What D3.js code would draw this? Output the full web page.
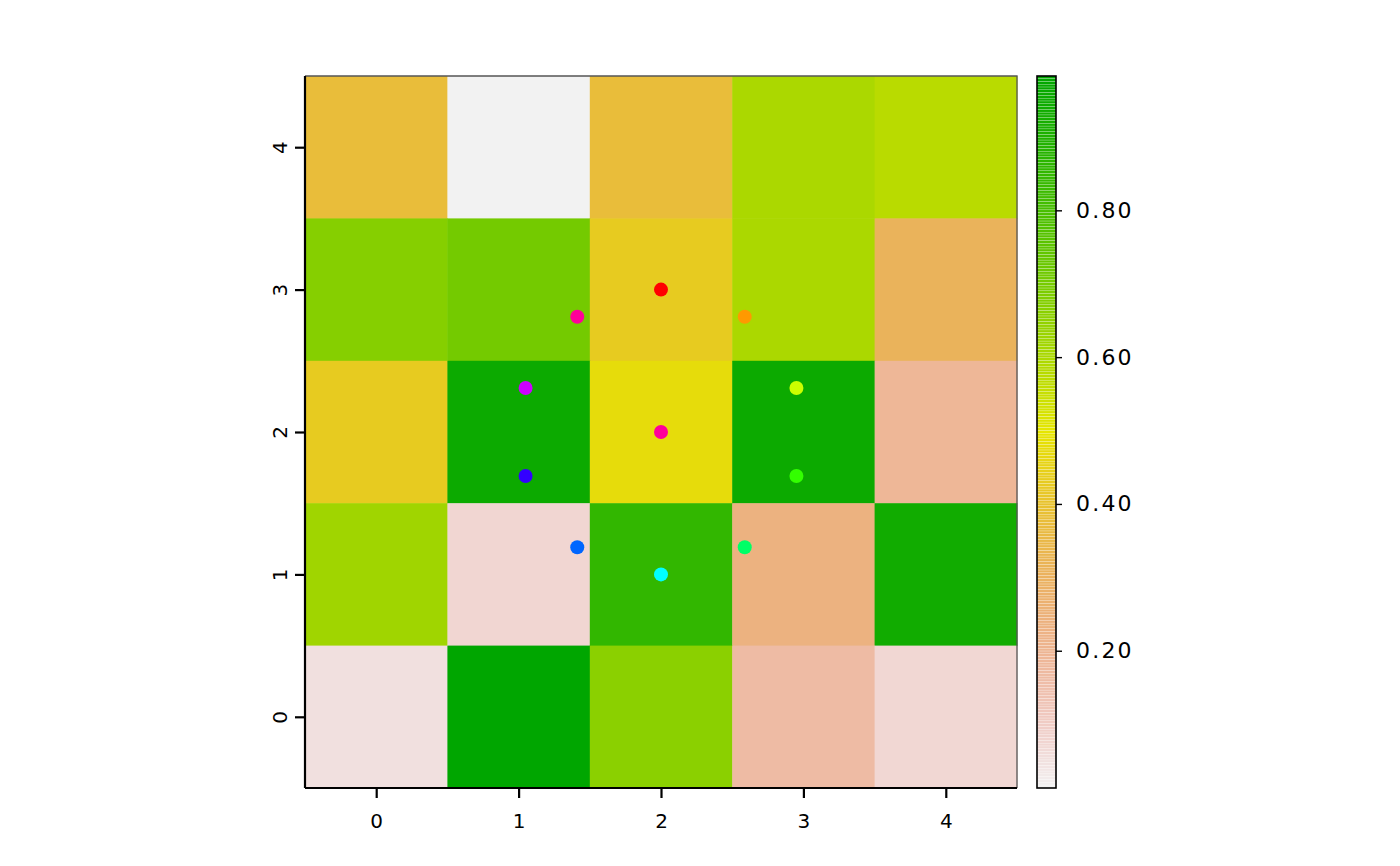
<!DOCTYPE html>
<html><head><meta charset="utf-8">
<script src="https://cdn.jsdelivr.net/npm/d3@7"></script>
<style>body{margin:0;background:#fff}svg{display:block}text{font-family:"DejaVu Sans",sans-serif}</style>
</head><body>
<svg id="c" width="1400" height="866"></svg>
<script>
// grid rows from top (y=4) to bottom (y=0), columns x=0..4
const xCats = [0, 1, 2, 3, 4];
const yCats = [4, 3, 2, 1, 0];
const row4 = [0.377, 0.013, 0.377, 0.600, 0.575];
const row3 = [0.670, 0.705, 0.430, 0.600, 0.310];
const row2 = [0.430, 0.948, 0.475, 0.948, 0.190];
const row1 = [0.620, 0.075, 0.850, 0.235, 0.936];
const row0 = [0.050, 0.983, 0.660, 0.165, 0.072];
const gridRows = [row4, row3, row2, row1, row0];
const ptX = [2, 2.588, 2.951, 2.951, 2.588, 2, 1.412, 1.049, 1.049, 1.412, 2];
const ptY = [3, 2.809, 2.309, 1.691, 1.191, 1, 1.191, 1.691, 2.309, 2.809, 2];
const ptCol = ["#FF0000","#FF9900","#CCFF00","#33FF00","#00FF66","#00FFFF","#0066FF","#3300FF","#CC00FF","#FF0099","#FF0099"];
const axisTicks = [0, 1, 2, 3, 4];
const legendTicks = [0.2, 0.4, 0.6, 0.8];

const svg = d3.select("#c");
const L = 305, R = 1017, T = 76, B = 788;
const x = d3.scaleLinear().domain([-0.5, 4.5]).range([L, R]);
const y = d3.scaleLinear().domain([-0.5, 4.5]).range([B, T]);

const allVals = gridRows.flat();
const vmin = d3.min(allVals), vmax = d3.max(allVals);
// reversed terrain.colors
function terrain(t) {
  const u = 1 - t;
  let h, s, v;
  if (u <= 0.5) { const f = u / 0.5; h = 1/3 + (1/6 - 1/3) * f; s = 1; v = 0.65 + 0.25 * f; }
  else { const f = (u - 0.5) / 0.5; h = 1/6 - (1/6) * f; s = 1 - f; v = 0.9 + 0.05 * f; }
  const c = v * s, hp = h * 6, X = c * (1 - Math.abs(hp % 2 - 1)), m = v - c;
  let r=0,g=0,b=0;
  if (hp < 1) { r=c; g=X; } else if (hp < 2) { r=X; g=c; } else { g=c; b=X; }
  return d3.rgb((r+m)*255, (g+m)*255, (b+m)*255);
}
const color = v => terrain((v - vmin) / (vmax - vmin));

const cells = [];
gridRows.forEach((row, i) => row.forEach((v, j) => cells.push({x: xCats[j], y: yCats[i], v})));
svg.append("g").selectAll("rect").data(cells).join("rect")
  .attr("x", d => x(d.x - 0.5)).attr("y", d => y(d.y + 0.5))
  .attr("width", d => x(d.x + 0.5) - x(d.x - 0.5) + 0.5)
  .attr("height", d => y(d.y - 0.5) - y(d.y + 0.5) + 0.5)
  .attr("fill", d => color(d.v));

// thin raster border top/right
svg.append("path").attr("d", `M${L},${T}H${R}V${B}`).attr("fill","none").attr("stroke","#555").attr("stroke-width",1.3);

// points
svg.append("g").selectAll("circle").data(ptX.map((d,i)=>({x:d,y:ptY[i],c:ptCol[i]}))).join("circle")
  .attr("cx", d => x(d.x)).attr("cy", d => y(d.y)).attr("r", 7).attr("fill", d => d.c);

// axes
const xa = svg.append("g").attr("transform", `translate(0,${B})`)
  .call(d3.axisBottom(x).tickValues(axisTicks).tickSize(10).tickPadding(16).tickFormat(d3.format("d")));
const ya = svg.append("g").attr("transform", `translate(${L},0)`)
  .call(d3.axisLeft(y).tickValues(axisTicks).tickSize(10).tickFormat(d3.format("d")));
[xa, ya].forEach(a => {
  a.select(".domain").attr("stroke", "#000").attr("stroke-width", 2.2);
  a.selectAll(".tick line").attr("stroke", "#000").attr("stroke-width", 2.2);
  a.selectAll("text").attr("font-size", 20).attr("fill", "#000").attr("font-family", "DejaVu Sans");
});
xa.select(".domain").attr("d", `M${L},0H${R}`);
ya.select(".domain").attr("d", `M0,${T}V${B}`);
ya.selectAll(".tick text").attr("x", null).attr("dy", null)
  .attr("transform", "translate(-18,0) rotate(-90)").attr("text-anchor", "middle").attr("y", 0);

// legend
const LX = 1037, LW = 19;
const ly = d3.scaleLinear().domain([vmin, vmax]).range([B, T]);
const n = 255;
const step = (B - T) / n;
const lg = svg.append("g");
lg.selectAll("rect").data(d3.range(n)).join("rect")
  .attr("x", LX).attr("width", LW)
  .attr("y", i => ly(vmin + (i + 1) * (vmax - vmin) / n))
  .attr("height", step * 0.88)
  .attr("fill", i => terrain((i + 0.5) / n));
lg.append("rect").attr("x", LX).attr("y", T).attr("width", LW).attr("height", B - T)
  .attr("fill", "none").attr("stroke", "#000").attr("stroke-width", 1.6);
const la = svg.append("g").attr("transform", `translate(${LX + LW},0)`)
  .call(d3.axisRight(ly).tickValues(legendTicks).tickSize(6).tickPadding(14).tickFormat(d3.format(".2f")));
la.select(".domain").remove();
la.selectAll(".tick line").attr("stroke", "#000").attr("stroke-width", 1.4);
la.selectAll("text").attr("font-size", 22).attr("letter-spacing", 2.2).attr("fill", "#000").attr("font-family", "DejaVu Sans");
</script>
</body></html>
